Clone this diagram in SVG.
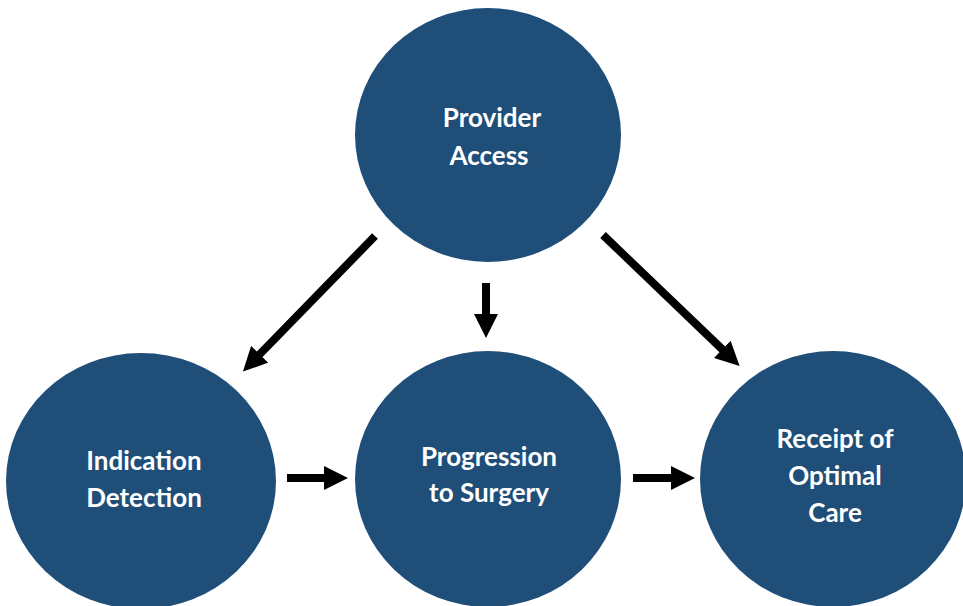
<svg xmlns="http://www.w3.org/2000/svg" width="963" height="606" viewBox="0 0 963 606">
<defs>
<marker id="ah" markerUnits="userSpaceOnUse" viewBox="0 0 24 24" markerWidth="24" markerHeight="24" refX="1" refY="12" orient="auto">
<path d="M0,0 L24,12 L0,24 z" fill="#000"/>
</marker>
<style>
.node{fill:#1f4e79;}
.lbl{font-family:Lato,"Open Sans","Liberation Sans",sans-serif;font-weight:bold;font-size:26px;fill:#fff;text-anchor:middle;}
.edge{stroke:#000;stroke-width:8;fill:none;marker-end:url(#ah);}
</style>
</defs>
<rect width="963" height="606" fill="#fff"/>
<g id="provider-access">
<ellipse class="node" cx="488" cy="135" rx="133" ry="127"/>
<text class="lbl" x="492" y="127">Provider</text>
<text class="lbl" x="489" y="165">Access</text>
</g>
<g id="indication-detection">
<ellipse class="node" cx="141" cy="481" rx="135" ry="128"/>
<text class="lbl" x="144" y="470">Indication</text>
<text class="lbl" x="144" y="507">Detection</text>
</g>
<g id="progression-to-surgery">
<ellipse class="node" cx="488" cy="479" rx="133" ry="128"/>
<text class="lbl" x="489" y="466">Progression</text>
<text class="lbl" x="489" y="502">to Surgery</text>
</g>
<g id="receipt-of-optimal-care">
<ellipse class="node" cx="833" cy="479" rx="133" ry="128"/>
<text class="lbl" x="835" y="448">Receipt of</text>
<text class="lbl" x="835" y="485">Optimal</text>
<text class="lbl" x="835" y="522">Care</text>
</g>
<g id="connectors">
<line class="edge" x1="375" y1="236" x2="259" y2="355"/>
<line class="edge" x1="486" y1="283" x2="486" y2="315"/>
<line class="edge" x1="603" y1="235" x2="723" y2="350"/>
<line class="edge" x1="287" y1="478" x2="325" y2="478"/>
<line class="edge" x1="633" y1="478" x2="672" y2="478"/>
</g>
</svg>
